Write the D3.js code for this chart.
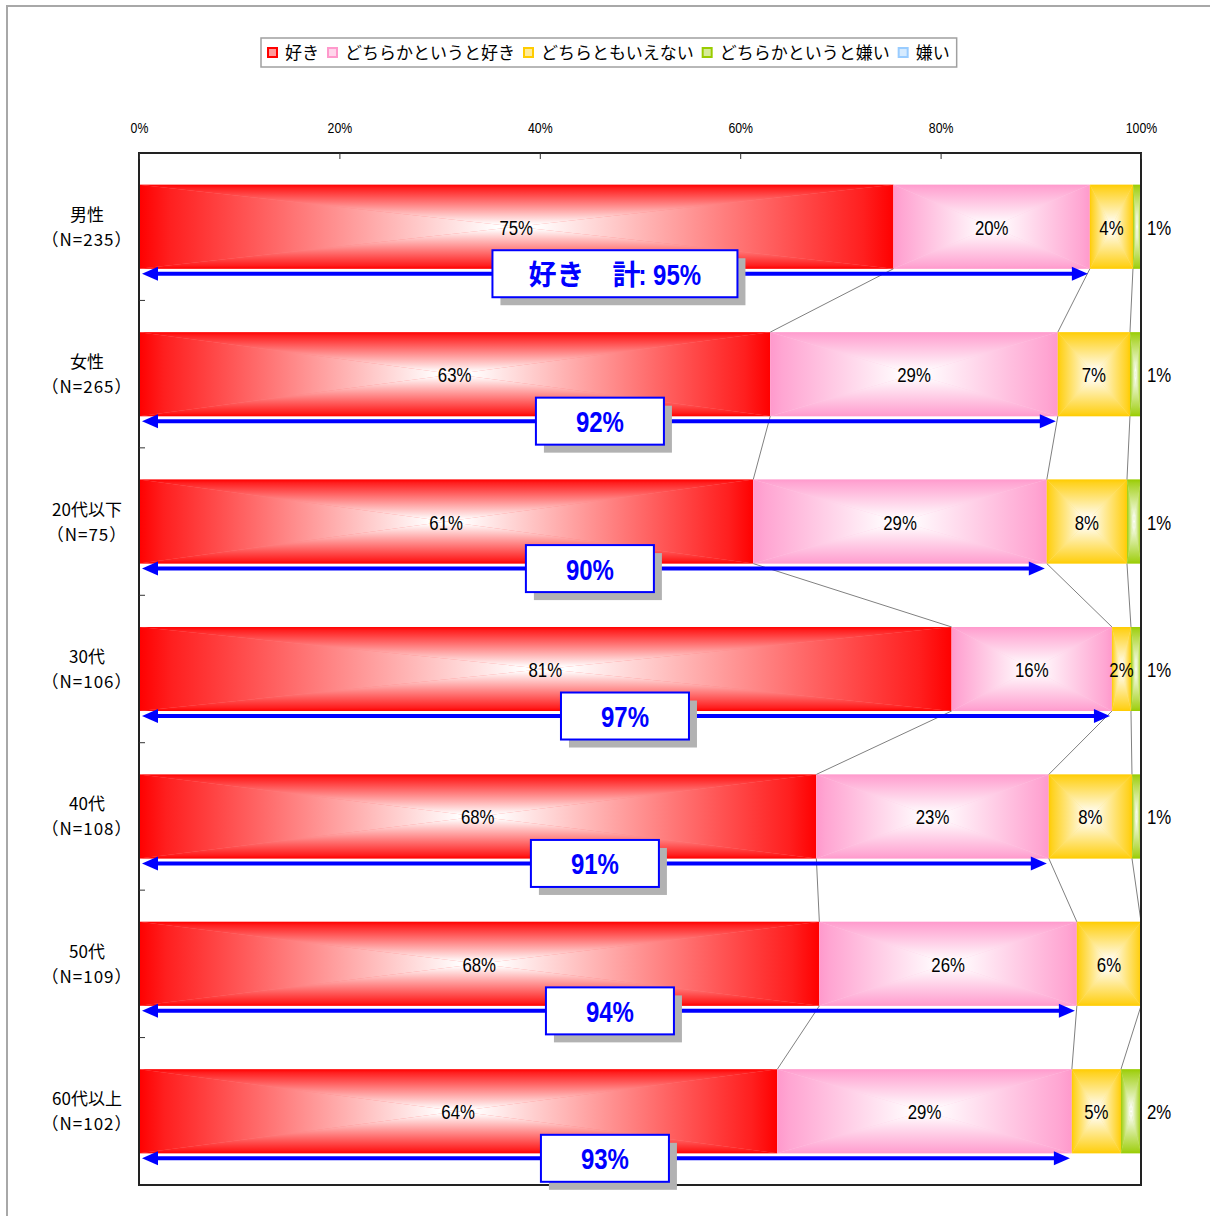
<!DOCTYPE html>
<html>
<meta charset="utf-8">
<style>
    body { margin: 0; background: #fff; }
    svg { display: block; }
</style>
<body>
<svg width="1210" height="1216"></svg>
<script src="https://d3js.org/d3.v7.min.js"></script>
<script>

    const categories = ["男性", "女性", "20代以下", "30代", "40代", "50代", "60代以上"];
    const sampleSizes = ["（N=235）", "（N=265）", "（N=75）", "（N=106）", "（N=108）", "（N=109）", "（N=102）"];
    const seriesNames = ["好き", "どちらかというと好き", "どちらともいえない", "どちらかというと嫌い", "嫌い"];
    const like = [75.3, 63.0, 61.3, 81.1, 67.6, 67.9, 63.7];
    const ratherLike = [19.6, 28.7, 29.3, 16.0, 23.2, 25.7, 29.4];
    const neutral = [4.3, 7.2, 8.0, 1.9, 8.3, 6.4, 4.9];
    const ratherDislike = [0.8, 1.1, 1.4, 1.0, 0.9, 0, 2.0];
    const dislike = [0, 0, 0, 0, 0, 0, 0];
    const xTicks = [0, 20, 40, 60, 80, 100];
    const colors = ["#ff0000", "#ff99cc", "#ffcc00", "#99cc00", "#99ccff"];

    const series = [like, ratherLike, neutral, ratherDislike, dislike];
    const latin = "'Liberation Sans', Arial, sans-serif";
    const jp = "'Noto Sans CJK JP', sans-serif";

    let svg = d3.select("svg");
    let plot = {left: 139, right: 1141, top: 153, bottom: 1185};

    // narrow look (no Arial Narrow here): squeeze text horizontally
    function narrowText(parent, x, y, txt, sx) {
        return parent.append("text")
            .attr("transform", "translate(" + x + "," + y + ") scale(" + sx + ",1)")
            .text(txt);
    }

    // outer chart frame
    svg.append("rect")
        .attr("x", 7).attr("y", 6)
        .attr("width", 1300).attr("height", 1300)
        .attr("fill", "none")
        .attr("stroke", "#a8a8a8")
        .attr("stroke-width", 2);

    let x = d3.scaleLinear().domain([0, 100]).range([plot.left, plot.right]);
    let y = d3.scaleBand()
        .domain(categories)
        .range([plot.top, plot.bottom])
        .paddingInner(0.43)
        .paddingOuter(0.215);
    let bh = y.bandwidth();

    // gradients: rectangle "from centre" fill made of 4 triangles
    let defs = svg.append("defs");
    let dirs = {
        top: [0, 0, 0, 1], bottom: [0, 1, 0, 0],
        left: [0, 0, 1, 0], right: [1, 0, 0, 0]
    };
    colors.forEach(function (c, i) {
        Object.keys(dirs).forEach(function (k) {
            let d = dirs[k];
            let g = defs.append("linearGradient")
                .attr("id", "g" + i + k)
                .attr("x1", d[0]).attr("y1", d[1])
                .attr("x2", d[2]).attr("y2", d[3]);
            g.append("stop").attr("offset", 0).attr("stop-color", c);
            g.append("stop").attr("offset", 0.08).attr("stop-color", d3.interpolateRgb(c, "#fff")(0.12));
            g.append("stop").attr("offset", 0.95).attr("stop-color", "#fff");
        });
    });

    // stacked segments
    let segs = [];
    categories.forEach(function (cat, r) {
        let acc = 0;
        series.forEach(function (s, i) {
            segs.push({cat: cat, row: r, s: i, x0: acc, x1: acc + s[r], v: s[r]});
            acc += s[r];
        });
    });

    let bars = svg.append("g");
    segs.filter(d => d.v > 0).forEach(function (d) {
        let x0 = x(d.x0), x1 = x(d.x1), y0 = y(d.cat), y1 = y0 + bh;
        let cx = (x0 + x1) / 2, cy = (y0 + y1) / 2;
        let g = bars.append("g");
        g.append("rect")
            .attr("x", x0).attr("y", y0).attr("width", x1 - x0).attr("height", bh)
            .attr("fill", d3.interpolateRgb(colors[d.s], "#fff")(0.5));
        let tris = {
            top: [[x0, y0], [x1, y0], [cx, cy]],
            bottom: [[x0, y1], [x1, y1], [cx, cy]],
            left: [[x0, y0], [x0, y1], [cx, cy]],
            right: [[x1, y0], [x1, y1], [cx, cy]]
        };
        Object.keys(tris).forEach(function (k) {
            g.append("path")
                .attr("d", "M" + tris[k].join("L") + "Z")
                .attr("fill", "url(#g" + d.s + k + ")");
        });
    });

    // series lines between bars
    let conn = svg.append("g").attr("stroke", "#808080").attr("stroke-width", 1);
    for (let r = 0; r < categories.length - 1; r++) {
        let a = 0, b = 0;
        for (let k = 0; k < 3; k++) {
            a += series[k][r];
            b += series[k][r + 1];
            conn.append("line")
                .attr("x1", x(a)).attr("y1", y(categories[r]) + bh)
                .attr("x2", x(b)).attr("y2", y(categories[r + 1]));
        }
    }

    // plot frame and axes
    svg.append("rect")
        .attr("x", plot.left).attr("y", plot.top)
        .attr("width", plot.right - plot.left).attr("height", plot.bottom - plot.top)
        .attr("fill", "none")
        .attr("stroke", "#222")
        .attr("stroke-width", 2);

    let xAxis = svg.append("g")
        .attr("transform", "translate(0," + plot.top + ")")
        .call(d3.axisTop(x).tickValues(xTicks).tickFormat(d => d + "%")
            .tickSizeInner(-6).tickSizeOuter(0).tickPadding(20));
    xAxis.select(".domain").remove();
    xAxis.selectAll("line").attr("stroke", "#333");
    xAxis.selectAll("text")
        .attr("font-family", latin)
        .attr("font-size", 15)
        .attr("transform", "scale(0.82,1)")
        .attr("fill", "#000");

    // left axis ticks between categories
    let yt = svg.append("g");
    for (let k = 1; k < categories.length; k++) {
        let yy = plot.top + y.step() * k;
        yt.append("line")
            .attr("x1", plot.left).attr("x2", plot.left + 6)
            .attr("y1", yy).attr("y2", yy)
            .attr("stroke", "#333");
    }

    // category labels
    let cl = svg.append("g").attr("font-family", jp).attr("font-size", 17)
        .attr("text-anchor", "middle").attr("fill", "#000");
    categories.forEach(function (c, r) {
        let cy = y(c) + bh / 2;
        cl.append("text").attr("x", 87).attr("y", cy - 6).text(c);
        cl.append("text").attr("x", 87).attr("y", cy + 19)
            .attr("letter-spacing", 1).text(sampleSizes[r]);
    });

    // segment labels
    let lab = svg.append("g").attr("font-family", latin).attr("font-size", 21).attr("fill", "#000");
    segs.filter(d => d.v > 0 && d.s < 4).forEach(function (d) {
        let cy = y(d.cat) + bh / 2 + 8;
        if (d.s === 3) {
            narrowText(lab, plot.right + 6, cy, Math.round(d.v) + "%", 0.8);
        } else {
            narrowText(lab, (x(d.x0) + x(d.x1)) / 2, cy, Math.round(d.v) + "%", 0.8)
                .attr("text-anchor", "middle");
        }
    });

    // total arrows and boxes
    let tot = svg.append("g");
    categories.forEach(function (c, r) {
        let total = Math.round(like[r]) + Math.round(ratherLike[r]);
        let ay = y(c) + bh + 5;
        let xl = x(0) + 3, xr = x(like[r] + ratherLike[r]) - 2;
        tot.append("line")
            .attr("x1", xl + 12).attr("x2", xr - 12)
            .attr("y1", ay).attr("y2", ay)
            .attr("stroke", "#0000ff").attr("stroke-width", 4);
        tot.append("path")
            .attr("d", "M" + xl + "," + ay + "L" + (xl + 16) + "," + (ay - 7) + "L" + (xl + 16) + "," + (ay + 7) + "Z")
            .attr("fill", "#0000ff");
        tot.append("path")
            .attr("d", "M" + xr + "," + ay + "L" + (xr - 16) + "," + (ay - 7) + "L" + (xr - 16) + "," + (ay + 7) + "Z")
            .attr("fill", "#0000ff");

        let bw = r === 0 ? 245 : 128, bhh = 47;
        let bx = x(total / 2) - bw / 2, by = ay - bhh / 2;
        tot.append("rect")
            .attr("x", bx + 8).attr("y", by + 8).attr("width", bw).attr("height", bhh)
            .attr("fill", "#b2b2b2");
        tot.append("rect")
            .attr("x", bx).attr("y", by).attr("width", bw).attr("height", bhh)
            .attr("fill", "#fff").attr("stroke", "#0000ff").attr("stroke-width", 2);
        let tg = tot.append("g")
            .attr("font-weight", "bold")
            .attr("fill", "#0000ff");
        if (r === 0) {
            tg.append("text")
                .attr("x", bx + 36).attr("y", by + bhh / 2 + 11)
                .attr("font-family", jp).attr("font-size", 28)
                .text("好き　計");
            narrowText(tg, bx + 146, by + bhh / 2 + 11, ": " + total + "%", 0.8)
                .attr("font-family", latin).attr("font-size", 30);
        } else {
            narrowText(tg, bx + bw / 2, by + bhh / 2 + 11, total + "%", 0.8)
                .attr("text-anchor", "middle")
                .attr("font-family", latin).attr("font-size", 30);
        }
    });

    // legend
    let lg = svg.append("g");
    let lgBox = lg.append("rect")
        .attr("fill", "#fff").attr("stroke", "#a0a0a0").attr("stroke-width", 1.5);
    let lx = 268, ly = 53;
    seriesNames.forEach(function (n, i) {
        lg.append("rect")
            .attr("x", lx).attr("y", ly - 5).attr("width", 9).attr("height", 9)
            .attr("fill", d3.interpolateRgb(colors[i], "#fff")(0.6))
            .attr("stroke", colors[i]).attr("stroke-width", 2);
        let t = lg.append("text")
            .attr("x", lx + 17).attr("y", ly + 6)
            .attr("font-family", jp).attr("font-size", 17)
            .attr("fill", "#000")
            .text(n);
        lx += 17 + t.node().getComputedTextLength() + 9;
    });
    lgBox.attr("x", 261).attr("y", 38).attr("width", lx - 261 - 2).attr("height", 29);

</script>
</body>
</html>
